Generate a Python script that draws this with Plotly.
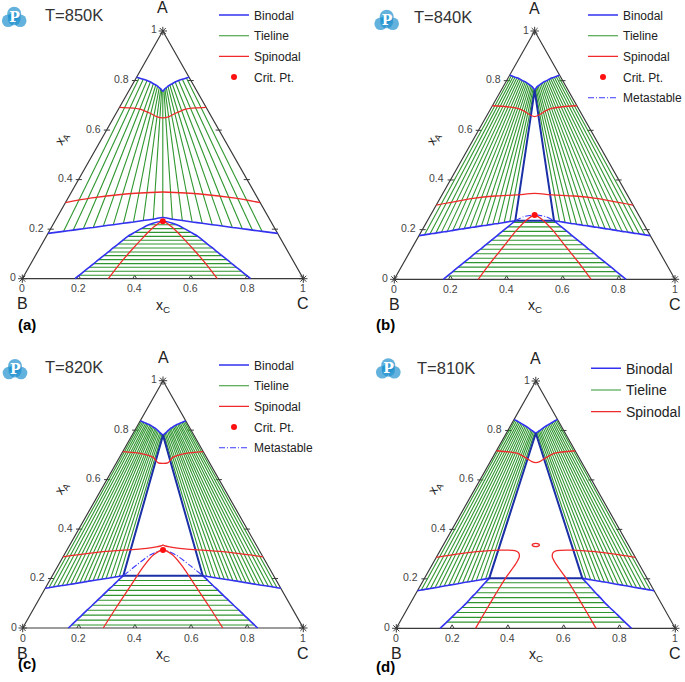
import plotly.graph_objects as go

FONT = "Liberation Sans, Arial, sans-serif"
W_PX, H_PX = 685, 682

# ======================= DATA (mole fractions x_A, x_C) =======================
tick_values = [0, 0.2, 0.4, 0.6, 0.8, 1]
tick_labels = ["0", "0.2", "0.4", "0.6", "0.8", "1"]
edge_ticks = [0.2, 0.4, 0.6, 0.8]
corner_names = ["A", "B", "C"]
corner_xa = [1.0, 0.0, 0.0]
corner_xc = [0.0, 0.0, 1.0]
titles = ["T=850K", "T=840K", "T=820K", "T=810K"]
panel_tags = ["(a)", "(b)", "(c)", "(d)"]

# ---- (a) T=850K ----
a_up_xa = [0.813, 0.810, 0.805, 0.800, 0.794, 0.787, 0.782, 0.777, 0.771, 0.767, 0.762, 0.755]
a_up_xc_l = [0.000, 0.011, 0.028, 0.044, 0.059, 0.073, 0.084, 0.093, 0.102, 0.109, 0.115, 0.1225]
a_up_xc_r = [0.187, 0.179, 0.167, 0.156, 0.147, 0.140, 0.134, 0.130, 0.127, 0.124, 0.123, 0.1225]
a_lo_xa = [0.183, 0.191, 0.196, 0.202, 0.207, 0.213, 0.218, 0.224, 0.229, 0.235, 0.240, 0.247]
a_lo_xc_l = [0.000, 0.051, 0.083, 0.116, 0.149, 0.182, 0.215, 0.248, 0.281, 0.313, 0.346, 0.3765]
a_lo_xc_r = [0.817, 0.758, 0.721, 0.682, 0.644, 0.605, 0.567, 0.528, 0.490, 0.452, 0.414, 0.3765]
a_sp_up_xa = [0.692, 0.690, 0.685, 0.668, 0.654, 0.649]
a_sp_up_xc_l = [0.000, 0.038, 0.076, 0.121, 0.151, 0.1755]
a_sp_up_xc_r = [0.308, 0.272, 0.239, 0.211, 0.195, 0.1755]
a_sp_lo_xa = [0.307, 0.325, 0.341, 0.349, 0.350]
a_sp_lo_xc_l = [0.000, 0.079, 0.189, 0.304, 0.325]
a_sp_lo_xc_r = [0.693, 0.596, 0.470, 0.347, 0.325]
a_bt_xa = [0.000, 0.014, 0.030, 0.046, 0.061, 0.077, 0.093, 0.108, 0.124, 0.140, 0.155, 0.171, 0.187, 0.202, 0.218]
a_bt_xc_l = [0.1875, 0.196, 0.205, 0.215, 0.224, 0.233, 0.243, 0.252, 0.261, 0.271, 0.280, 0.290, 0.306, 0.322, 0.341]
a_bt_xc_r = [0.8125, 0.790, 0.765, 0.739, 0.715, 0.690, 0.664, 0.640, 0.615, 0.589, 0.565, 0.539, 0.507, 0.476, 0.441]
a_sp_bt_xa = [0.000, 0.062, 0.116, 0.167, 0.2075]
a_sp_bt_xc_l = [0.306, 0.317, 0.331, 0.347, 0.3625]
a_sp_bt_xc_r = [0.694, 0.621, 0.553, 0.486, 0.430]
a_crit_xa = [0.232]
a_crit_xc = [0.384]

# ---- (b) T=840K ----
b_up_xa = [0.823, 0.820, 0.817, 0.814, 0.812, 0.809, 0.805, 0.801, 0.798, 0.795, 0.791, 0.787, 0.783, 0.779, 0.775, 0.770, 0.766, 0.762]
b_up_xc_l = [0.000, 0.007, 0.015, 0.023, 0.031, 0.039, 0.047, 0.055, 0.063, 0.070, 0.077, 0.084, 0.091, 0.098, 0.104, 0.110, 0.115, 0.119]
b_up_xc_r = [0.177, 0.173, 0.168, 0.163, 0.157, 0.152, 0.148, 0.144, 0.139, 0.135, 0.132, 0.129, 0.126, 0.123, 0.121, 0.120, 0.119, 0.119]
b_lo_xa = [0.176, 0.179, 0.183, 0.186, 0.190, 0.193, 0.197, 0.201, 0.204, 0.208, 0.211, 0.215, 0.218, 0.222, 0.225, 0.229, 0.233, 0.236]
b_lo_xc_l = [0.000, 0.018, 0.036, 0.055, 0.073, 0.092, 0.110, 0.129, 0.147, 0.166, 0.184, 0.203, 0.221, 0.240, 0.258, 0.277, 0.295, 0.313]
b_lo_xc_r = [0.824, 0.803, 0.781, 0.759, 0.737, 0.715, 0.693, 0.670, 0.649, 0.626, 0.605, 0.582, 0.561, 0.538, 0.517, 0.494, 0.472, 0.451]
b_sp_up_xa = [0.699, 0.695, 0.689, 0.679, 0.662, 0.655]
b_sp_up_xc_l = [0.000, 0.053, 0.092, 0.120, 0.153, 0.1725]
b_sp_up_xc_r = [0.301, 0.252, 0.219, 0.201, 0.185, 0.1725]
b_sp_lo_xa = [0.299, 0.326, 0.3355, 0.340, 0.346]
b_sp_lo_xc_l = [0.000, 0.118, 0.190, 0.266, 0.327]
b_sp_lo_xc_r = [0.701, 0.556, 0.4745, 0.394, 0.327]
b_bt_xa = [0.000, 0.013, 0.031, 0.049, 0.067, 0.085, 0.103, 0.121, 0.139, 0.157, 0.175, 0.193, 0.211, 0.229]
b_bt_xc_l = [0.1746, 0.182, 0.193, 0.203, 0.214, 0.225, 0.235, 0.246, 0.256, 0.267, 0.278, 0.288, 0.299, 0.309]
b_bt_xc_r = [0.8254, 0.805, 0.776, 0.748, 0.719, 0.690, 0.662, 0.633, 0.605, 0.576, 0.547, 0.519, 0.490, 0.462]
b_cap_xa = [0.236, 0.252, 0.259, 0.252, 0.236]
b_cap_xc = [0.313, 0.334, 0.3705, 0.414, 0.451]
b_sp_bt_xa = [0.000, 0.064, 0.131, 0.199, 0.239]
b_sp_bt_xc_l = [0.299, 0.309, 0.323, 0.337, 0.352]
b_sp_bt_xc_r = [0.701, 0.627, 0.546, 0.464, 0.409]
b_crit_xa = [0.259]
b_crit_xc = [0.3705]

# ---- (c) T=820K ----
c_up_xa = [0.838, 0.836, 0.834, 0.831, 0.829, 0.826, 0.824, 0.821, 0.818, 0.815, 0.811, 0.808, 0.804, 0.800, 0.796, 0.791, 0.787, 0.783, 0.780]
c_up_xc_l = [0.000, 0.005, 0.011, 0.017, 0.024, 0.030, 0.036, 0.043, 0.049, 0.055, 0.061, 0.068, 0.074, 0.080, 0.086, 0.093, 0.099, 0.105, 0.110]
c_up_xc_r = [0.162, 0.159, 0.155, 0.152, 0.147, 0.144, 0.140, 0.136, 0.133, 0.130, 0.128, 0.124, 0.122, 0.120, 0.118, 0.116, 0.114, 0.112, 0.110]
c_lo_xa = [0.1605, 0.163, 0.166, 0.169, 0.172, 0.174, 0.177, 0.180, 0.183, 0.186, 0.189, 0.192, 0.195, 0.197, 0.200, 0.203, 0.206, 0.209, 0.2115]
c_lo_xc_l = [0.000, 0.012, 0.026, 0.040, 0.055, 0.069, 0.083, 0.098, 0.112, 0.126, 0.140, 0.155, 0.169, 0.183, 0.197, 0.212, 0.226, 0.240, 0.2528]
c_lo_xc_r = [0.8395, 0.825, 0.808, 0.791, 0.773, 0.757, 0.740, 0.722, 0.705, 0.688, 0.671, 0.653, 0.636, 0.620, 0.603, 0.585, 0.568, 0.551, 0.536]
c_sp_up_xa = [0.713, 0.706, 0.690, 0.668, 0.666]
c_sp_up_xc_l = [0.000, 0.065, 0.120, 0.149, 0.167]
c_sp_up_xc_r = [0.287, 0.229, 0.190, 0.183, 0.167]
c_sp_lo_xa = [0.288, 0.3085, 0.322, 0.333, 0.336]
c_sp_lo_xc_l = [0.000, 0.133, 0.281, 0.329, 0.332]
c_sp_lo_xc_r = [0.712, 0.5585, 0.397, 0.338, 0.332]
c_bt_xa = [0.000, 0.012, 0.032, 0.052, 0.072, 0.092, 0.112, 0.132, 0.152, 0.172, 0.192]
c_bt_xc_l = [0.1625, 0.168, 0.176, 0.185, 0.193, 0.202, 0.210, 0.219, 0.227, 0.236, 0.244]
c_bt_xc_r = [0.8375, 0.820, 0.792, 0.763, 0.735, 0.706, 0.678, 0.649, 0.621, 0.592, 0.564]
c_cap_xa = [0.2115, 0.255, 0.295, 0.3154, 0.295, 0.255, 0.2115]
c_cap_xc = [0.2528, 0.279, 0.306, 0.3423, 0.399, 0.466, 0.536]
c_sp_bt_xa = [0.000, 0.086, 0.167, 0.248, 0.295]
c_sp_bt_xc_l = [0.287, 0.292, 0.299, 0.306, 0.318]
c_sp_bt_xc_r = [0.713, 0.622, 0.534, 0.446, 0.387]
c_crit_xa = [0.3154]
c_crit_xc = [0.3423]

# ---- (d) T=810K ----
d_up_xa = [0.845, 0.8425, 0.839, 0.8355, 0.832, 0.8285, 0.825, 0.8215, 0.818, 0.8144, 0.8104, 0.8063, 0.8023, 0.7988, 0.7953, 0.7919, 0.7885]
d_up_xc_l = [0.000, 0.005, 0.012, 0.019, 0.026, 0.033, 0.040, 0.047, 0.054, 0.061, 0.068, 0.075, 0.082, 0.088, 0.094, 0.100, 0.1058]
d_up_xc_r = [0.155, 0.1525, 0.149, 0.1455, 0.142, 0.1385, 0.135, 0.1315, 0.128, 0.1246, 0.1216, 0.1187, 0.1157, 0.1132, 0.1107, 0.1081, 0.1057]
d_lo_xa = [0.152, 0.155, 0.158, 0.161, 0.164, 0.167, 0.171, 0.174, 0.177, 0.180, 0.184, 0.187, 0.190, 0.193, 0.196, 0.200, 0.202]
d_lo_xc_l = [0.000, 0.012, 0.027, 0.042, 0.057, 0.071, 0.086, 0.101, 0.116, 0.131, 0.146, 0.161, 0.175, 0.190, 0.205, 0.220, 0.232]
d_lo_xc_r = [0.848, 0.833, 0.815, 0.797, 0.779, 0.762, 0.743, 0.725, 0.707, 0.689, 0.670, 0.652, 0.635, 0.617, 0.599, 0.580, 0.566]
d_sp_up_xa = [0.718, 0.708, 0.687, 0.674, 0.670]
d_sp_up_xc_l = [0.000, 0.078, 0.124, 0.149, 0.165]
d_sp_up_xc_r = [0.282, 0.214, 0.189, 0.177, 0.165]
d_sp_xa = [0.287, 0.300, 0.310, 0.316, 0.314, 0.306, 0.290, 0.263, 0.202, 0.140, 0.070, 0.000]
d_sp_xc_l = [0.000, 0.066, 0.133, 0.213, 0.268, 0.285, 0.296, 0.298, 0.290, 0.287, 0.285, 0.284]
d_sp_xc_r = [0.713, 0.634, 0.557, 0.471, 0.418, 0.409, 0.414, 0.439, 0.508, 0.573, 0.645, 0.716]
d_loop_xa = [0.3368, 0.3414, 0.3433, 0.3414, 0.3368, 0.3322, 0.3303, 0.3322, 0.3368]
d_loop_xc = [0.3446, 0.3385, 0.3284, 0.3201, 0.3186, 0.3247, 0.3349, 0.3431, 0.3446]
d_bt_xa = [0.000, 0.025, 0.044, 0.064, 0.084, 0.104, 0.124, 0.144, 0.164, 0.184]
d_bt_xc_l = [0.157, 0.168, 0.176, 0.184, 0.193, 0.201, 0.207, 0.214, 0.220, 0.226]
d_bt_xc_r = [0.843, 0.807, 0.780, 0.752, 0.723, 0.695, 0.669, 0.642, 0.616, 0.590]

# ======================= STYLE / LAYOUT =======================
BLUE = "#3232f0"
DARKBLUE = "#1b2fa6"
GREEN = "#2f962f"
RED = "#f02a2a"
FRAME = "#3a3a3a"
TXT = "#333333"
LOGO_BLUE = "#2191cf"

# B_x, C_x, base_y, apex_y (pixels)
PANEL_PX = [(22.3, 303.3, 278.7, 31.0), (394.3, 675.0, 279.3, 31.0),
            (22.7, 303.3, 628.0, 380.7), (396.3, 675.3, 628.3, 381.0)]
PAD = 0.03
AX = ["", "2", "3", "4"]
LEG = ["legend", "legend2", "legend3", "legend4"]
TITLE_POS = [(43.3, 15.0), (411.7, 16.7), (43.3, 366.7), (415.0, 368.3)]
LOGO_POS = [(14.2, 17.3), (386.7, 20.3), (15.0, 369.5), (388.3, 368.7)]
TAG_POS = [(15.8, 324.0), (385.0, 324.0), (15.8, 674.0), (385.8, 677.0)]
LEGEND_SPEC = [(214, 15.0, 12, 1.7), (583, 15.0, 12, 1.7), (214, 365.0, 12, 1.7), (586, 368.3, 14, 0.5)]

fig = go.Figure()


def to_X(xa, xc):
    return [c + 0.5 * a for a, c in zip(xa, xc)]


def add_lines(k, segs, color, width, name=None, group=None, rank=None, dash=None,
              spline=False, show=False):
    xs, ys = [], []
    for xa, xc in segs:
        xs += to_X(xa, xc) + [None]
        ys += list(xa) + [None]
    line = dict(color=color, width=width)
    if dash:
        line["dash"] = dash
    if spline:
        line["shape"] = "spline"
        line["smoothing"] = 0.7
    fig.add_trace(go.Scatter(x=xs, y=ys, mode="lines", xaxis="x" + AX[k], yaxis="y" + AX[k],
                             line=line, name=name, legendgroup=group, legendrank=rank,
                             showlegend=show, legend=LEG[k], hoverinfo="skip"))


def add_frame(k):
    order = [1, 2, 0, 1]
    add_lines(k, [([corner_xa[i] for i in order], [corner_xc[i] for i in order])], FRAME, 1.2)
    # tick marks (axis decoration)
    xs, ys = [], []
    for t in edge_ticks:
        xs += [t / 2 - 0.010, t / 2 + 0.012, None, 1 - t / 2 + 0.010, 1 - t / 2 - 0.012, None,
               t - 0.007, t, t + 0.007, None]
        ys += [t, t, None, t, t, None, 0, 0.014, 0, None]
    fig.add_trace(go.Scatter(x=xs, y=ys, mode="lines", xaxis="x" + AX[k], yaxis="y" + AX[k],
                             line=dict(color=FRAME, width=1), showlegend=False, hoverinfo="skip"))
    fig.add_trace(go.Scatter(x=to_X(corner_xa, corner_xc), y=corner_xa, mode="markers",
                             xaxis="x" + AX[k], yaxis="y" + AX[k], showlegend=False, hoverinfo="skip",
                             marker=dict(symbol="asterisk-open", size=7, color=FRAME,
                                         line=dict(color=FRAME, width=1))))


def add_crit(k, xa, xc, show=True):
    fig.add_trace(go.Scatter(x=to_X(xa, xc), y=xa, mode="markers", xaxis="x" + AX[k], yaxis="y" + AX[k],
                             marker=dict(color="#ff1010", size=6), name="Crit. Pt.",
                             legendgroup=f"{k}-crit", legendrank=4, showlegend=show,
                             legend=LEG[k], hoverinfo="skip"))


def rev(a):
    return a[::-1]


# ---------------- panel (a) ----------------
k = 0
add_frame(k)
n = len(a_up_xa)
segs = [([a_up_xa[i], a_lo_xa[i]], [a_up_xc_l[i], a_lo_xc_l[i]]) for i in range(1, n)]
segs += [([a_up_xa[i], a_lo_xa[i]], [a_up_xc_r[i], a_lo_xc_r[i]]) for i in range(1, n - 1)]
segs += [([a_bt_xa[i], a_bt_xa[i]], [a_bt_xc_l[i], a_bt_xc_r[i]]) for i in range(1, len(a_bt_xa))]
add_lines(k, segs, GREEN, 1.1, "Tieline", f"{k}-tie", 2, show=True)
segs = [(a_up_xa, a_up_xc_l), (a_up_xa, a_up_xc_r),
        (a_lo_xa + rev(a_lo_xa)[1:], a_lo_xc_l + rev(a_lo_xc_r)[1:]),
        (a_bt_xa + a_crit_xa + rev(a_bt_xa), a_bt_xc_l + a_crit_xc + rev(a_bt_xc_r))]
add_lines(k, segs, BLUE, 1.6, "Binodal", f"{k}-bin", 1, spline=True, show=True)
segs = [(a_sp_up_xa + rev(a_sp_up_xa)[1:], a_sp_up_xc_l + rev(a_sp_up_xc_r)[1:]),
        (a_sp_lo_xa + rev(a_sp_lo_xa)[1:], a_sp_lo_xc_l + rev(a_sp_lo_xc_r)[1:]),
        (a_sp_bt_xa + a_crit_xa + rev(a_sp_bt_xa), a_sp_bt_xc_l + a_crit_xc + rev(a_sp_bt_xc_r))]
add_lines(k, segs, RED, 1.3, "Spinodal", f"{k}-sp", 3, spline=True, show=True)
add_crit(k, a_crit_xa, a_crit_xc)


# ---------------- panels (b), (c), (d): three-phase triangle ----------------
def three_phase_panel(k, up_xa, up_l, up_r, lo_xa, lo_l, lo_r, bt_xa, bt_l, bt_r,
                      sp_up, sp_lo, sp_bt, cap, crit):
    add_frame(k)
    n = len(up_xa)
    segs = [([up_xa[i], lo_xa[i]], [up_l[i], lo_l[i]]) for i in range(1, n - 1)]
    segs += [([up_xa[i], lo_xa[i]], [up_r[i], lo_r[i]]) for i in range(1, n - 1)]
    segs += [([bt_xa[i], bt_xa[i]], [bt_l[i], bt_r[i]]) for i in range(1, len(bt_xa))]
    add_lines(k, segs, GREEN, 1.1, "Tieline", f"{k}-tie", 2, show=True)
    segs = [(up_xa, up_l), (up_xa, up_r), (lo_xa, lo_l), (lo_xa, lo_r),
            (bt_xa + [lo_xa[-1]], bt_l + [lo_l[-1]]), (bt_xa + [lo_xa[-1]], bt_r + [lo_r[-1]])]
    add_lines(k, segs, BLUE, 1.6, "Binodal", f"{k}-bin", 1, spline=True, show=True)
    tri = ([up_xa[-1], lo_xa[-1], lo_xa[-1], up_xa[-1]], [up_l[-1], lo_l[-1], lo_r[-1], up_r[-1]])
    add_lines(k, [tri], DARKBLUE, 2.0, "Binodal", f"{k}-bin", 1)
    if cap is not None:
        add_lines(k, [cap], "#3a3aff", 1.1, "Metastable", f"{k}-meta", 5, dash="6px,2px,1px,2px",
                  spline=True, show=True)
    add_lines(k, sp_up + sp_lo + sp_bt, RED, 1.3, "Spinodal", f"{k}-sp", 3, spline=True, show=True)
    if crit is not None:
        add_crit(k, crit[0], crit[1])


three_phase_panel(
    1, b_up_xa, b_up_xc_l, b_up_xc_r, b_lo_xa, b_lo_xc_l, b_lo_xc_r, b_bt_xa, b_bt_xc_l, b_bt_xc_r,
    [(b_sp_up_xa + rev(b_sp_up_xa)[1:], b_sp_up_xc_l + rev(b_sp_up_xc_r)[1:])],
    [(b_sp_lo_xa + rev(b_sp_lo_xa)[1:], b_sp_lo_xc_l + rev(b_sp_lo_xc_r)[1:])],
    [(b_sp_bt_xa + b_crit_xa + rev(b_sp_bt_xa), b_sp_bt_xc_l + b_crit_xc + rev(b_sp_bt_xc_r))],
    (b_cap_xa, b_cap_xc), (b_crit_xa, b_crit_xc))

three_phase_panel(
    2, c_up_xa, c_up_xc_l, c_up_xc_r, c_lo_xa, c_lo_xc_l, c_lo_xc_r, c_bt_xa, c_bt_xc_l, c_bt_xc_r,
    [(c_sp_up_xa + rev(c_sp_up_xa)[1:], c_sp_up_xc_l + rev(c_sp_up_xc_r)[1:])],
    [(c_sp_lo_xa + rev(c_sp_lo_xa)[1:], c_sp_lo_xc_l + rev(c_sp_lo_xc_r)[1:])],
    [(c_sp_bt_xa + c_crit_xa + rev(c_sp_bt_xa), c_sp_bt_xc_l + c_crit_xc + rev(c_sp_bt_xc_r))],
    (c_cap_xa, c_cap_xc), (c_crit_xa, c_crit_xc))

three_phase_panel(
    3, d_up_xa, d_up_xc_l, d_up_xc_r, d_lo_xa, d_lo_xc_l, d_lo_xc_r, d_bt_xa, d_bt_xc_l, d_bt_xc_r,
    [(d_sp_up_xa + rev(d_sp_up_xa)[1:], d_sp_up_xc_l + rev(d_sp_up_xc_r)[1:])],
    [(d_sp_xa, d_sp_xc_l), (d_sp_xa, d_sp_xc_r)],
    [(d_loop_xa, d_loop_xc)],
    None, None)

# ---------------- logos: full-page pixel overlay axis ----------------
logo_x, logo_y, logo_s = [], [], []
for lx, ly in LOGO_POS:
    for dx, dy, r in [(0, -3.5, 7.0), (-6.0, 3.5, 6.3), (6.0, 3.5, 6.3), (0, 1.5, 6.5)]:
        logo_x.append(lx + dx)
        logo_y.append(ly + dy)
        logo_s.append(2 * r)
fig.add_trace(go.Scatter(x=logo_x, y=logo_y, mode="markers", xaxis="x5", yaxis="y5",
                         marker=dict(size=logo_s, color=LOGO_BLUE, line=dict(width=0)),
                         showlegend=False, hoverinfo="skip", cliponaxis=False))
fig.add_trace(go.Scatter(x=[p[0] + 0.3 for p in LOGO_POS], y=[p[1] + 1.2 for p in LOGO_POS],
                         mode="text", text=["<b>P</b>"] * 4, xaxis="x5", yaxis="y5",
                         textfont=dict(size=14, color="white", family="DejaVu Serif"),
                         showlegend=False, hoverinfo="skip", cliponaxis=False))

# ======================= LAYOUT =======================
layout = dict(width=W_PX, height=H_PX, margin=dict(l=0, r=0, t=0, b=0, autoexpand=False),
              paper_bgcolor="white", plot_bgcolor="rgba(0,0,0,0)", font=dict(family=FONT, color=TXT))
layout["xaxis5"] = dict(domain=[0, 1], range=[0, W_PX], visible=False, anchor="y5", fixedrange=True)
layout["yaxis5"] = dict(domain=[0, 1], range=[H_PX, 0], visible=False, anchor="x5", fixedrange=True)
annotations = []
for k, (bx, cx, by, ay) in enumerate(PANEL_PX):
    W = cx - bx
    H = by - ay
    sfx = AX[k]
    layout["xaxis" + sfx] = dict(domain=[(bx - PAD * W) / W_PX, (cx + PAD * W) / W_PX],
                                 range=[-PAD, 1 + PAD], visible=False, anchor="y" + sfx, fixedrange=True)
    layout["yaxis" + sfx] = dict(domain=[1 - (by + PAD * H) / H_PX, 1 - (ay - PAD * H) / H_PX],
                                 range=[-PAD, 1 + PAD], visible=False, anchor="x" + sfx, fixedrange=True)
    xr, yr = "x" + sfx, "y" + sfx
    for t, lab in zip(tick_values, tick_labels):
        annotations.append(dict(x=t / 2, y=t, xref=xr, yref=yr, text=lab, showarrow=False,
                                xanchor="right", xshift=-4, yshift=1.5,
                                font=dict(size=10.5, color="#444444")))
        annotations.append(dict(x=t, y=0, xref=xr, yref=yr, text=lab, showarrow=False,
                                yanchor="top", yshift=-1.5, font=dict(size=10.5, color="#444444")))
    for name, xa, xc in zip(corner_names, corner_xa, corner_xc):
        annotations.append(dict(x=xc + xa / 2, y=xa, xref=xr, yref=yr, text=name, showarrow=False,
                                yshift=23 if xa > 0.5 else -25, font=dict(size=16, color="#222222")))
    annotations.append(dict(x=0.5, y=0, xref=xr, yref=yr, text="x<sub>C</sub>", showarrow=False,
                            yshift=-27, font=dict(size=14, color="#222222")))
    annotations.append(dict(x=0.141, y=0.568, xref=xr, yref=yr, text="x<sub>A</sub>", showarrow=False,
                            textangle=-60, font=dict(size=13, color="#222222")))
    # title
    tx, ty = TITLE_POS[k]
    annotations.append(dict(x=tx / W_PX, y=1 - ty / H_PX, xref="paper", yref="paper", text=titles[k],
                            showarrow=False, xanchor="left", yanchor="middle",
                            font=dict(size=16.5, color="#333333")))
    # panel tag
    gx, gy = TAG_POS[k]
    annotations.append(dict(x=gx / W_PX, y=1 - gy / H_PX, xref="paper", yref="paper", text=panel_tags[k],
                            showarrow=False, font=dict(size=15, color="black", weight="bold")))
    # legend
    lgx, row1, fsz, gap = LEGEND_SPEC[k]
    item_h = max(fsz * 1.3, 16) + 3
    top = row1 - (5 + item_h / 2)
    layout[LEG[k]] = dict(x=lgx / W_PX, y=1 - top / H_PX, xref="container", yref="container",
                          xanchor="left", yanchor="top", bgcolor="rgba(0,0,0,0)", borderwidth=0,
                          traceorder="grouped", tracegroupgap=gap,
                          font=dict(size=fsz, color="#222222", family=FONT))

layout["annotations"] = annotations
fig.update_layout(**layout)
fig.write_html("out.html", config={"displayModeBar": False},
               post_script="document.body.style.margin='0px';document.body.style.padding='0px';")
